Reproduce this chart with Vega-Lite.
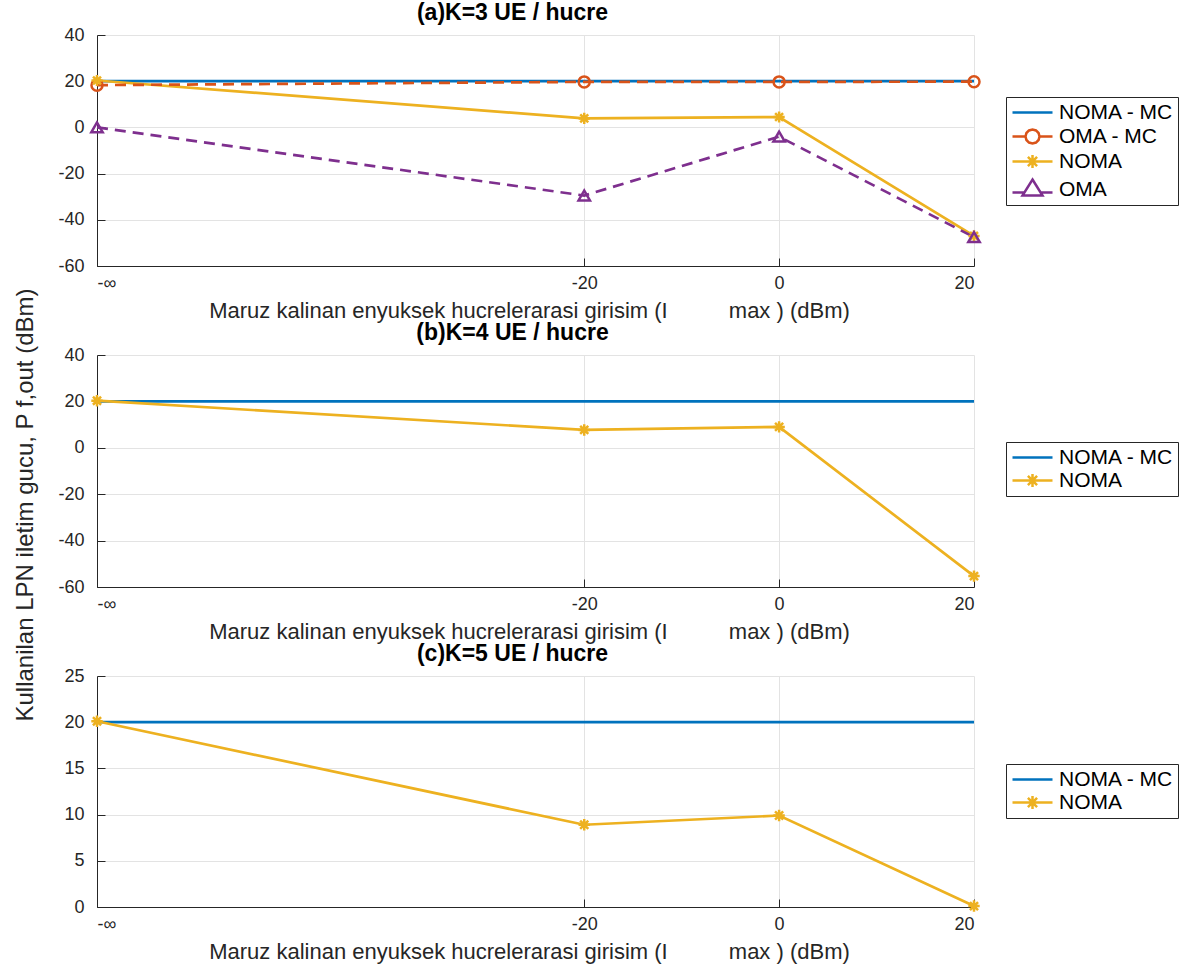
{
  "$schema": "https://vega.github.io/schema/vega-lite/v6.json",
  "background": "white",
  "padding": {"left": 13, "top": 2, "right": 5, "bottom": 5},
  "bounds": "flush",
  "spacing": 89,
  "title": {"text": "Kullanilan LPN iletim gucu, P f,out (dBm)", "orient": "left", "anchor": "middle", "frame": "bounds", "fontSize": 24, "fontWeight": "normal", "color": "#262626", "offset": 20},
  "config": {
    "font": "Liberation Sans",
    "view": {"stroke": null},
    "axis": {
      "domainColor": "#262626", "domainWidth": 1, "tickColor": "#262626", "tickWidth": 1,
      "labelColor": "#262626", "labelFont": "Liberation Sans", "labelFontSize": 18,
      "titleFont": "Liberation Sans", "titleFontSize": 22, "titleFontWeight": "normal", "titleColor": "#262626",
      "gridColor": "#e3e3e3", "gridWidth": 1, "tickSize": -8,
      "labelExpr": "replace(datum.label, '\u2212', '-')"
    },
    "axisX": {"labelPadding": 16, "titlePadding": 8, "titleX": 432},
    "axisY": {"labelPadding": 21},
    "title": {"font": "Liberation Sans", "fontSize": 23, "fontWeight": "bold", "color": "#000000", "anchor": "middle", "frame": "group", "offset": 1, "dx": -23},
    "legend": {
      "orient": "none", "legendX": 909, "padding": 4, "strokeColor": "#262626", "fillColor": "white",
      "symbolSize": 400, "symbolOffset": 11, "labelOffset": 15, "labelFontSize": 21, "labelColor": "#000000",
      "labelFont": "Liberation Sans", "rowPadding": 1, "title": null, "symbolStrokeWidth": 2.5
    }
  },
  "datasets": {
    "d": [
      {"panel": "a", "series": "NOMA - MC", "x": -70, "y": 20},
      {"panel": "a", "series": "NOMA - MC", "x": -20, "y": 20},
      {"panel": "a", "series": "NOMA - MC", "x": 0, "y": 20},
      {"panel": "a", "series": "NOMA - MC", "x": 20, "y": 20},
      {"panel": "a", "series": "OMA - MC", "x": -70, "y": 18.3},
      {"panel": "a", "series": "OMA - MC", "x": -20, "y": 19.7},
      {"panel": "a", "series": "OMA - MC", "x": 0, "y": 19.7},
      {"panel": "a", "series": "OMA - MC", "x": 20, "y": 19.8},
      {"panel": "a", "series": "NOMA", "x": -70, "y": 20.3},
      {"panel": "a", "series": "NOMA", "x": -20, "y": 3.9},
      {"panel": "a", "series": "NOMA", "x": 0, "y": 4.5},
      {"panel": "a", "series": "NOMA", "x": 20, "y": -47},
      {"panel": "a", "series": "OMA", "x": -70, "y": 0},
      {"panel": "a", "series": "OMA", "x": -20, "y": -29.5},
      {"panel": "a", "series": "OMA", "x": 0, "y": -4},
      {"panel": "a", "series": "OMA", "x": 20, "y": -47.5},
      {"panel": "b", "series": "NOMA - MC", "x": -70, "y": 20},
      {"panel": "b", "series": "NOMA - MC", "x": -20, "y": 20},
      {"panel": "b", "series": "NOMA - MC", "x": 0, "y": 20},
      {"panel": "b", "series": "NOMA - MC", "x": 20, "y": 20},
      {"panel": "b", "series": "NOMA", "x": -70, "y": 20.3},
      {"panel": "b", "series": "NOMA", "x": -20, "y": 7.7},
      {"panel": "b", "series": "NOMA", "x": 0, "y": 9},
      {"panel": "b", "series": "NOMA", "x": 20, "y": -55.3},
      {"panel": "c", "series": "NOMA - MC", "x": -70, "y": 20},
      {"panel": "c", "series": "NOMA - MC", "x": -20, "y": 20},
      {"panel": "c", "series": "NOMA - MC", "x": 0, "y": 20},
      {"panel": "c", "series": "NOMA - MC", "x": 20, "y": 20},
      {"panel": "c", "series": "NOMA", "x": -70, "y": 20.1},
      {"panel": "c", "series": "NOMA", "x": -20, "y": 8.9},
      {"panel": "c", "series": "NOMA", "x": 0, "y": 9.9},
      {"panel": "c", "series": "NOMA", "x": 20, "y": 0.1}
    ]
  },
  "resolve": {
    "scale": {"color": "independent", "shape": "independent", "size": "independent", "x": "independent", "y": "independent"},
    "legend": {"color": "independent", "shape": "independent", "size": "independent"}
  },
  "vconcat": [
    {
      "width": 877, "height": 231,
      "title": {"text": "(a)K=3 UE / hucre"},
      "data": {"name": "d"},
      "transform": [{"filter": "datum.panel === 'a'"}],
      "encoding": {
        "x": {"field": "x", "type": "quantitative", "scale": {"domain": [-70, 20], "nice": false, "zero": false},
          "axis": {"values": [-70, -20, 0, 20], "labelExpr": "datum.value === -70 ? '-∞' : replace(datum.label, '\u2212', '-')", "title": "Maruz kalinan enyuksek hucrelerarasi girisim (I\u00a0\u00a0\u00a0\u00a0\u00a0\u00a0\u00a0\u00a0\u00a0\u00a0max\u00a0) (dBm)"}},
        "y": {"field": "y", "type": "quantitative", "scale": {"domain": [-60, 40], "nice": false, "zero": false},
          "axis": {"values": [-60, -40, -20, 0, 20, 40], "title": null}}
      },
      "layer": [
        {
          "transform": [{"filter": "datum.series === 'NOMA - MC' || datum.series === 'NOMA'"}],
          "mark": {"type": "line", "strokeWidth": 2.7},
          "encoding": {
            "color": {"field": "series", "type": "nominal",
              "scale": {"domain": ["NOMA - MC", "OMA - MC", "NOMA", "OMA"], "range": ["#0072BD", "#D95319", "#EDB120", "#7E2F8E"]},
              "legend": {"legendY": 62,
                "encode": {"symbols": {"update": {
                  "shape": {"signal": "datum.value === 'NOMA - MC' ? 'M-2,0L2,0' : datum.value === 'OMA - MC' ? 'M-2,0L-0.7,0M0.7,0L2,0M0.7,0L0.606,0.35L0.35,0.606L0,0.7L-0.35,0.606L-0.606,0.35L-0.7,0L-0.606,-0.35L-0.35,-0.606L0,-0.7L0.35,-0.606L0.606,-0.35Z' : datum.value === 'NOMA' ? 'M-2,0L2,0M-0.65,0L0.65,0M0,-0.65L0,0.65M-0.46,-0.46L0.46,0.46M-0.46,0.46L0.46,-0.46' : 'M-2,0.3L-0.85,0.3M0.85,0.3L2,0.3M0,-1L1,0.6L-1,0.6Z'"},
                  "stroke": {"signal": "datum.value === 'NOMA - MC' ? '#0072BD' : datum.value === 'OMA - MC' ? '#D95319' : datum.value === 'NOMA' ? '#EDB120' : '#7E2F8E'"},
                  "fill": {"value": "transparent"},
                  "strokeWidth": {"value": 2.5},
                  "opacity": {"value": 1}
                }}}}}
          }
        },
        {
          "transform": [{"filter": "datum.series === 'OMA - MC' || datum.series === 'OMA'"}],
          "mark": {"type": "line", "strokeWidth": 2.7, "strokeDash": [11, 7]},
          "encoding": {
            "color": {"field": "series", "type": "nominal", "legend": null}
          }
        },
        {
          "transform": [{"filter": "datum.series !== 'NOMA - MC'"}],
          "mark": {"type": "point", "filled": false, "strokeWidth": 2.5, "opacity": 1},
          "encoding": {
            "color": {"field": "series", "type": "nominal", "legend": null},
            "shape": {"field": "series", "type": "nominal",
              "scale": {"domain": ["OMA - MC", "NOMA", "OMA"], "range": ["circle", "M-1,0L1,0M0,-1L0,1M-0.71,-0.71L0.71,0.71M-0.71,0.71L0.71,-0.71", "triangle-up"]},
              "legend": null},
            "size": {"field": "series", "type": "nominal",
              "scale": {"domain": ["OMA - MC", "NOMA", "OMA"], "range": [121, 130, 200]},
              "legend": null}
          }
        }
      ]
    },
    {
      "width": 877, "height": 232,
      "title": {"text": "(b)K=4 UE / hucre"},
      "data": {"name": "d"},
      "transform": [{"filter": "datum.panel === 'b'"}],
      "encoding": {
        "x": {"field": "x", "type": "quantitative", "scale": {"domain": [-70, 20], "nice": false, "zero": false},
          "axis": {"values": [-70, -20, 0, 20], "labelExpr": "datum.value === -70 ? '-∞' : replace(datum.label, '\u2212', '-')", "title": "Maruz kalinan enyuksek hucrelerarasi girisim (I\u00a0\u00a0\u00a0\u00a0\u00a0\u00a0\u00a0\u00a0\u00a0\u00a0max\u00a0) (dBm)"}},
        "y": {"field": "y", "type": "quantitative", "scale": {"domain": [-60, 40], "nice": false, "zero": false},
          "axis": {"values": [-60, -40, -20, 0, 20, 40], "title": null}}
      },
      "layer": [
        {
          "mark": {"type": "line", "strokeWidth": 2.7},
          "encoding": {
            "color": {"field": "series", "type": "nominal",
              "scale": {"domain": ["NOMA - MC", "NOMA"], "range": ["#0072BD", "#EDB120"]},
              "legend": {"legendY": 87,
                "encode": {"symbols": {"update": {
                  "shape": {"signal": "datum.value === 'NOMA - MC' ? 'M-2,0L2,0' : 'M-2,0L2,0M-0.65,0L0.65,0M0,-0.65L0,0.65M-0.46,-0.46L0.46,0.46M-0.46,0.46L0.46,-0.46'"},
                  "stroke": {"signal": "datum.value === 'NOMA - MC' ? '#0072BD' : '#EDB120'"},
                  "fill": {"value": "transparent"},
                  "strokeWidth": {"value": 2.5},
                  "opacity": {"value": 1}
                }}}}}
          }
        },
        {
          "transform": [{"filter": "datum.series !== 'NOMA - MC'"}],
          "mark": {"type": "point", "filled": false, "strokeWidth": 2.5, "opacity": 1, "size": 130,
            "shape": "M-1,0L1,0M0,-1L0,1M-0.71,-0.71L0.71,0.71M-0.71,0.71L0.71,-0.71"},
          "encoding": {
            "color": {"field": "series", "type": "nominal", "legend": null}
          }
        }
      ]
    },
    {
      "width": 877, "height": 231,
      "title": {"text": "(c)K=5 UE / hucre"},
      "data": {"name": "d"},
      "transform": [{"filter": "datum.panel === 'c'"}],
      "encoding": {
        "x": {"field": "x", "type": "quantitative", "scale": {"domain": [-70, 20], "nice": false, "zero": false},
          "axis": {"values": [-70, -20, 0, 20], "labelExpr": "datum.value === -70 ? '-∞' : replace(datum.label, '\u2212', '-')", "title": "Maruz kalinan enyuksek hucrelerarasi girisim (I\u00a0\u00a0\u00a0\u00a0\u00a0\u00a0\u00a0\u00a0\u00a0\u00a0max\u00a0) (dBm)"}},
        "y": {"field": "y", "type": "quantitative", "scale": {"domain": [0, 25], "nice": false, "zero": false},
          "axis": {"values": [0, 5, 10, 15, 20, 25], "title": null}}
      },
      "layer": [
        {
          "mark": {"type": "line", "strokeWidth": 2.7},
          "encoding": {
            "color": {"field": "series", "type": "nominal",
              "scale": {"domain": ["NOMA - MC", "NOMA"], "range": ["#0072BD", "#EDB120"]},
              "legend": {"legendY": 88,
                "encode": {"symbols": {"update": {
                  "shape": {"signal": "datum.value === 'NOMA - MC' ? 'M-2,0L2,0' : 'M-2,0L2,0M-0.65,0L0.65,0M0,-0.65L0,0.65M-0.46,-0.46L0.46,0.46M-0.46,0.46L0.46,-0.46'"},
                  "stroke": {"signal": "datum.value === 'NOMA - MC' ? '#0072BD' : '#EDB120'"},
                  "fill": {"value": "transparent"},
                  "strokeWidth": {"value": 2.5},
                  "opacity": {"value": 1}
                }}}}}
          }
        },
        {
          "transform": [{"filter": "datum.series !== 'NOMA - MC'"}],
          "mark": {"type": "point", "filled": false, "strokeWidth": 2.5, "opacity": 1, "size": 130,
            "shape": "M-1,0L1,0M0,-1L0,1M-0.71,-0.71L0.71,0.71M-0.71,0.71L0.71,-0.71"},
          "encoding": {
            "color": {"field": "series", "type": "nominal", "legend": null}
          }
        }
      ]
    }
  ]
}
